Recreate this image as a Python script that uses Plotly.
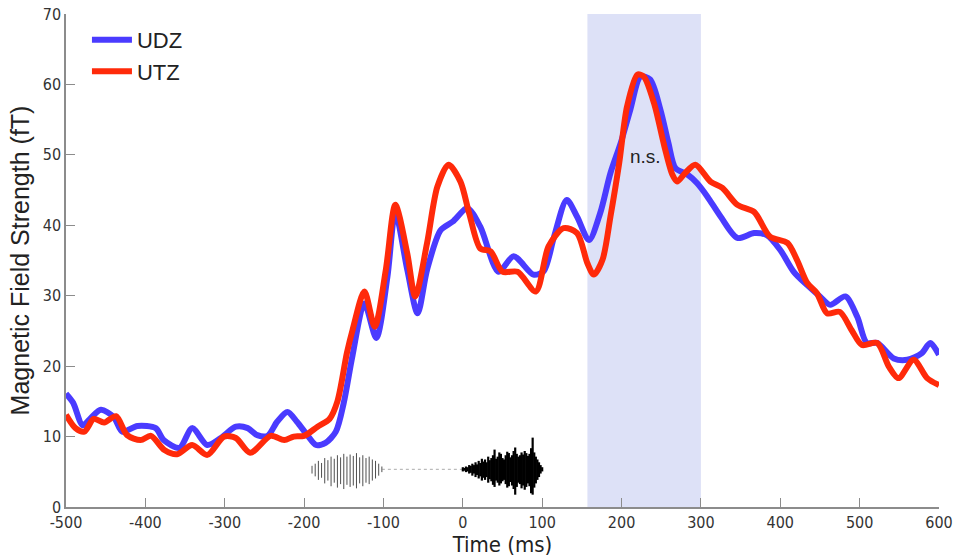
import plotly.graph_objects as go

# ---- data ----
udz_t = [-500, -491, -479, -469, -456, -440, -429, -410, -387, -377, -357, -341, -322, -305, -286, -271,
         -259, -246, -234, -221, -209, -196, -185, -173, -160, -150, -139, -124, -109, -95, -85, -70,
         -57, -45, -28, -13, 6, 22, 45, 64, 89, 102, 115, 131, 144, 159, 173, 186, 199, 211, 224, 236,
         249, 259, 268, 283, 295, 308, 325, 346, 367, 383, 400, 417, 434, 450, 463, 482, 497, 509, 522,
         543, 560, 578, 589, 600]
udz_v = [16.1, 14.8, 11.6, 12.6, 13.8, 12.8, 10.7, 11.5, 11.2, 9.5, 8.4, 11.2, 8.8, 9.8, 11.4, 11.2,
         10.2, 10.1, 12.1, 13.5, 12.1, 10.2, 8.8, 9.1, 10.7, 14.8, 21.5, 28.9, 24.0, 32.7, 41.8, 33.7,
         27.5, 33.7, 39.3, 40.5, 42.4, 39.8, 33.4, 35.6, 33.0, 33.5, 38.4, 43.6, 41.2, 37.9, 41.7, 47.4,
         51.7, 56.4, 61.1, 60.7, 56.4, 51.7, 48.1, 47.2, 46.0, 44.1, 41.2, 38.2, 38.9, 38.6, 36.5, 33.4,
         31.5, 29.9, 28.7, 29.9, 27.0, 23.3, 23.3, 21.1, 20.9, 21.8, 23.3, 21.6]

utz_t = [-500, -488, -477, -465, -452, -437, -423, -406, -393, -376, -360, -341, -322, -301, -286, -268,
         -242, -225, -213, -200, -183, -168, -158, -146, -139, -124, -111, -97, -85, -70, -60, -45, -32,
         -18, -3, 8, 22, 35, 50, 69, 92, 108, 127, 144, 157, 165, 176, 186, 197, 207, 220, 228, 241, 254,
         264, 270, 280, 293, 312, 327, 346, 367, 387, 409, 421, 434, 446, 459, 475, 490, 503, 522, 537,
         549, 568, 585, 600]
utz_v = [13.1, 11.2, 10.7, 12.5, 12.0, 12.9, 10.2, 9.5, 10.1, 8.1, 7.5, 8.8, 7.4, 10.0, 9.8, 7.7,
         10.1, 9.5, 10.0, 10.1, 11.4, 12.5, 15.0, 21.9, 25.1, 30.6, 25.6, 33.7, 42.9, 36.0, 29.9, 37.5,
         45.5, 48.6, 46.2, 41.7, 36.7, 36.3, 33.4, 33.4, 30.6, 37.0, 39.6, 38.9, 34.6, 33.0, 35.1, 41.2,
         48.8, 56.9, 61.4, 61.1, 57.3, 51.2, 47.2, 46.2, 47.4, 48.6, 46.2, 45.3, 42.9, 41.9, 38.4, 37.5,
         35.1, 31.8, 30.4, 27.5, 27.7, 25.1, 23.0, 23.3, 19.9, 18.3, 20.9, 18.3, 17.3]

window_ms = [157, 300]
ns_label = "n.s."
ns_pos = [230, 49.8]

x_ticks = [-500, -400, -300, -200, -100, 0, 100, 200, 300, 400, 500, 600]
y_ticks = [0, 10, 20, 30, 40, 50, 60, 70]

# stimulus waveform glyph (centre level and stroke extents)
wave_centre = 5.35
wave1_t = [-190, -186, -182, -178, -174, -170, -166, -162, -158, -154, -150, -146, -142, -138, -134,
           -130, -126, -122, -118, -114, -110, -106, -102]
wave1_hi = [0.5, 0.8, 1.2, 0.9, 1.6, 1.3, 1.8, 1.5, 2.0, 1.7, 2.2, 1.8, 2.1, 1.9, 2.3, 1.7, 2.0, 1.6,
            1.8, 1.4, 1.2, 0.8, 0.4]
wave1_lo = [0.6, 1.0, 1.5, 1.2, 2.0, 1.6, 2.4, 1.9, 2.6, 2.1, 2.8, 2.2, 2.5, 2.3, 2.7, 2.0, 2.4, 1.9,
            2.1, 1.6, 1.3, 0.9, 0.4]
wave2_t = [0, 2, 4, 6, 8, 10, 12, 14, 16, 18, 20, 22, 24, 26, 28, 30, 32, 34, 36, 38, 40, 42, 44, 46,
           48, 50, 52, 54, 56, 58, 60, 62, 64, 66, 68, 70, 72, 74, 76, 78, 80, 82, 84, 86, 88, 90, 92,
           94, 96, 98, 100]
wave2_hi = [0.3, 0.2, 0.4, 0.3, 0.6, 0.5, 0.8, 0.6, 1.0, 0.7, 1.2, 0.9, 1.5, 1.1, 1.4, 1.0, 1.8, 1.3,
            1.6, 2.0, 2.8, 1.5, 1.8, 2.4, 2.2, 1.6, 1.4, 2.0, 2.5, 2.3, 1.7, 2.0, 2.6, 3.1, 2.2, 1.8,
            2.0, 2.4, 2.1, 2.6, 2.3, 1.9, 2.2, 3.0, 4.5, 2.4, 1.8, 1.4, 1.0, 0.6, 0.3]
wave2_lo = [0.3, 0.2, 0.4, 0.3, 0.6, 0.5, 0.9, 0.6, 1.1, 0.8, 1.3, 1.0, 1.6, 1.2, 1.5, 1.1, 1.9, 1.4,
            1.7, 2.2, 2.5, 1.6, 1.9, 2.3, 2.0, 1.7, 1.5, 2.1, 2.6, 2.4, 1.8, 2.3, 2.8, 3.6, 2.5, 1.9,
            2.1, 2.7, 2.3, 2.9, 2.5, 2.0, 2.4, 3.4, 3.6, 2.6, 2.0, 1.5, 1.1, 0.6, 0.3]


def strokes(ts, hi, lo):
    xs, ys = [], []
    for t, h, l in zip(ts, hi, lo):
        xs += [t, t, None]
        ys += [wave_centre + h, wave_centre - l, None]
    return xs, ys


FONT = "Liberation Sans Narrow, DejaVu Sans Condensed, Liberation Sans, Arial, sans-serif"
FONT2 = "Liberation Sans, Arial, sans-serif"

fig = go.Figure()

fig.add_vrect(x0=window_ms[0], x1=window_ms[1], fillcolor="#dde1f7", opacity=1,
              line_width=0, layer="below")

# waveform glyph
w1x, w1y = strokes(wave1_t, wave1_hi, wave1_lo)
fig.add_trace(go.Scatter(x=w1x, y=w1y, mode="lines", line=dict(color="#222222", width=0.8),
                         showlegend=False, hoverinfo="skip"))
fig.add_trace(go.Scatter(x=[wave1_t[-1], wave2_t[0]], y=[wave_centre, wave_centre], mode="lines",
                         line=dict(color="#888888", width=0.7, dash="dot"),
                         showlegend=False, hoverinfo="skip"))
w2x, w2y = strokes(wave2_t, wave2_hi, wave2_lo)
fig.add_trace(go.Scatter(x=w2x, y=w2y, mode="lines", line=dict(color="black", width=2.2),
                         showlegend=False, hoverinfo="skip"))

fig.add_trace(go.Scatter(x=udz_t, y=udz_v, mode="lines", name="UDZ",
                         line=dict(color="#4a3bff", width=6, shape="spline", smoothing=0.8)))
fig.add_trace(go.Scatter(x=utz_t, y=utz_v, mode="lines", name="UTZ",
                         line=dict(color="#ff2a0a", width=6, shape="spline", smoothing=0.8)))

fig.add_annotation(x=ns_pos[0], y=ns_pos[1], text=ns_label, showarrow=False,
                   font=dict(size=19, color="#222222", family=FONT2))

fig.update_xaxes(range=[-500, 600], tickvals=x_ticks, ticktext=[str(v) for v in x_ticks],
                 showgrid=False, zeroline=False, showline=True, linecolor="#8c8c8c", linewidth=1.5,
                 ticks="inside", ticklen=9, tickcolor="#8c8c8c", tickwidth=1, automargin=False,
                 ticklabeloverflow="allow",
                 tickfont=dict(size=16, color="#333333", family=FONT),
                 title=dict(text="Time (ms)", font=dict(size=22, color="#222222", family=FONT),
                            standoff=2))
fig.update_yaxes(range=[0, 70], tickvals=y_ticks, showgrid=False, zeroline=False, showline=True,
                 linecolor="#8c8c8c", linewidth=1.5, ticks="inside", ticklen=9, tickcolor="#8c8c8c",
                 tickwidth=1, automargin=False, ticklabeloverflow="allow",
                 tickfont=dict(size=16, color="#333333", family=FONT),
                 title=dict(text="Magnetic Field Strength (fT)",
                            font=dict(size=25, color="#222222", family=FONT2),
                            standoff=6))

fig.update_layout(width=953, height=559, plot_bgcolor="white", paper_bgcolor="white",
                  margin=dict(l=66, r=14, t=14, b=52),
                  legend=dict(x=0.024, y=0.99, xanchor="left", yanchor="top",
                              bgcolor="rgba(0,0,0,0)", font=dict(size=22, color="#222222",
                                                                 family=FONT2),
                              tracegroupgap=0, itemwidth=40))

# remove the page's default body margin so the 953x559 figure fills the window exactly
fig.write_html("out.html", config={"displayModeBar": False},
               post_script="document.body.style.margin='0';"
                           "document.documentElement.style.overflow='hidden';")
